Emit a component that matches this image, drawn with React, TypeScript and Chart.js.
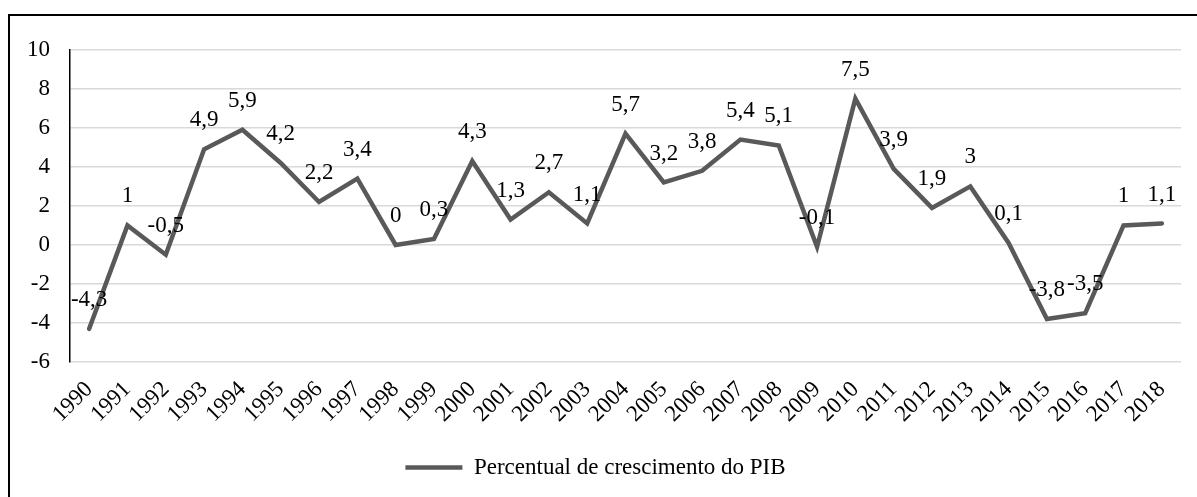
import React, { useEffect, useRef } from "react";
import { Chart, registerables } from "chart.js";

Chart.register(...registerables);

const years: string[] = [
  "1990", "1991", "1992", "1993", "1994", "1995", "1996", "1997", "1998", "1999",
  "2000", "2001", "2002", "2003", "2004", "2005", "2006", "2007", "2008", "2009",
  "2010", "2011", "2012", "2013", "2014", "2015", "2016", "2017", "2018",
];

const growth: number[] = [
  -4.3, 1, -0.5, 4.9, 5.9, 4.2, 2.2, 3.4, 0, 0.3,
  4.3, 1.3, 2.7, 1.1, 5.7, 3.2, 3.8, 5.4, 5.1, -0.1,
  7.5, 3.9, 1.9, 3, 0.1, -3.8, -3.5, 1, 1.1,
];

const seriesName = "Percentual de crescimento do PIB";
const yMin = -6;
const yMax = 10;
const yStep = 2;

const FONT = "'Liberation Serif', 'Times New Roman', serif";
const LINE_COLOR = "#595959";

const dataLabelPlugin = {
  id: "dataLabels",
  afterDatasetsDraw(chart: any) {
    const ctx = chart.ctx;
    ctx.save();
    ctx.font = `23px ${FONT}`;
    ctx.fillStyle = "#000000";
    ctx.textAlign = "center";
    ctx.textBaseline = "middle";
    chart.data.datasets.forEach((ds: any, di: number) => {
      const meta = chart.getDatasetMeta(di);
      meta.data.forEach((pt: any, i: number) => {
        const v = ds.data[i];
        const txt = String(v).replace(".", ",");
        ctx.fillText(txt, pt.x, pt.y - 29);
      });
    });
    ctx.restore();
  },
};

export default function App() {
  const ref = useRef<HTMLCanvasElement | null>(null);

  useEffect(() => {
    if (!ref.current) return;
    const chart = new Chart(ref.current, {
      type: "line",
      data: {
        labels: years,
        datasets: [
          {
            label: seriesName,
            data: growth,
            borderColor: LINE_COLOR,
            backgroundColor: LINE_COLOR,
            borderWidth: 4.5,
            borderCapStyle: "round",
            borderJoinStyle: "miter",
            pointRadius: 0,
            pointHoverRadius: 0,
            tension: 0,
            fill: false,
          },
        ],
      },
      options: {
        animation: false,
        responsive: false,
        maintainAspectRatio: false,
        layout: { padding: { left: 0, top: 28, right: 16, bottom: 8 } },
        plugins: {
          tooltip: { enabled: false },
          legend: {
            display: true,
            position: "bottom",
            labels: {
              usePointStyle: true,
              pointStyle: "line",
              pointStyleWidth: 57,
              padding: 10,
              color: "#000000",
              font: { family: FONT, size: 23 },
            },
          },
        },
        scales: {
          x: {
            offset: true,
            grid: { display: false, drawTicks: false },
            border: { display: false },
            ticks: {
              autoSkip: false,
              maxRotation: 45,
              minRotation: 45,
              padding: 14,
              color: "#000000",
              font: { family: FONT, size: 23 },
            },
            afterFit: (scale: any) => {
              scale.height = 84;
            },
          },
          y: {
            min: yMin,
            max: yMax,
            grid: { color: "#d9d9d9", lineWidth: 1.5, drawTicks: false },
            border: { display: true, color: "#000000", width: 1.5 },
            ticks: {
              stepSize: yStep,
              padding: 20,
              color: "#000000",
              font: { family: FONT, size: 23 },
            },
            afterFit: (scale: any) => {
              scale.width = 60;
            },
          },
        },
      },
      plugins: [dataLabelPlugin],
    });
    return () => chart.destroy();
  }, []);

  return (
    <div
      style={{
        position: "absolute",
        left: 8,
        top: 14,
        width: 1189,
        height: 483,
        boxSizing: "border-box",
        borderLeft: "2px solid #000",
        borderTop: "2px solid #000",
        background: "#fff",
        overflow: "hidden",
      }}
    >
      <canvas ref={ref} width={1187} height={481} style={{ display: "block" }} />
    </div>
  );
}
